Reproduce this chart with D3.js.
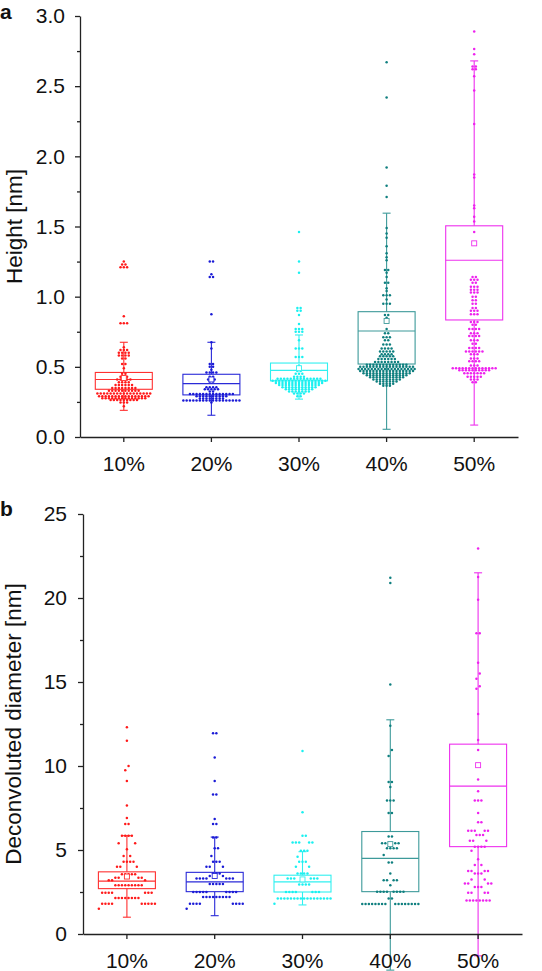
<!DOCTYPE html>
<html>
<head>
<meta charset="utf-8">
<script src="https://cdn.jsdelivr.net/npm/d3@7/dist/d3.min.js"></script>
<style>
  html, body { margin: 0; padding: 0; background: #fff; }
  svg { display: block; }
  text { font-family: "Liberation Sans", Arial, Helvetica, sans-serif; fill: #111; }
</style>
</head>
<body>
<svg id="chart" width="542" height="971"></svg>
<script>
// ---------------- DATA ----------------
const categories = ["10%", "20%", "30%", "40%", "50%"];
const colors = ["#ff1a1a", "#1a1ad6", "#1af0f0", "#0f7f7f", "#ee22ee"];
const boxColors = ["#ff3030", "#2a2ad8", "#30f0f0", "#3d9a9a", "#ee30ee"];

// Panel a: Height [nm]  —  [value, number of points at that value]
const height10 = [[1.25,1],[1.23,2],[1.21,3],[0.86,1],[0.81,3],[0.64,1],[0.62,3],[0.60,4],[0.58,4],[0.56,2],[0.52,2],[0.49,1],[0.45,2],[0.43,3],[0.41,5],[0.39,4],[0.37,6],[0.35,8],[0.33,10],[0.31,17],[0.29,16],[0.277,14],[0.263,9],[0.245,3],[0.22,1]];
const height20 = [[1.25,2],[1.16,1],[1.14,2],[0.875,1],[0.675,1],[0.63,1],[0.52,2],[0.50,2],[0.48,1],[0.46,4],[0.43,2],[0.41,3],[0.395,2],[0.355,4],[0.34,5],[0.325,2],[0.306,14],[0.29,10],[0.275,8],[0.26,18],[0.245,1]];
const height30 = [[1.46,1],[1.25,1],[1.17,1],[0.92,2],[0.90,2],[0.87,1],[0.805,1],[0.77,3],[0.75,3],[0.69,1],[0.63,3],[0.57,3],[0.51,1],[0.47,2],[0.45,3],[0.43,4],[0.415,14],[0.40,17],[0.385,15],[0.37,13],[0.355,11],[0.34,9],[0.325,7],[0.31,4],[0.29,2]];
const height40 = [[2.67,1],[2.42,1],[1.92,1],[1.79,1],[1.71,1],[1.49,1],[1.45,1],[1.42,1],[1.36,1],[1.31,1],[1.28,1],[1.26,1],[1.19,2],[1.17,1],[1.14,1],[1.10,2],[1.06,1],[1.04,1],[1.01,3],[0.98,1],[0.95,3],[0.87,2],[0.85,1],[0.82,1],[0.77,1],[0.74,2],[0.71,3],[0.69,2],[0.66,3],[0.63,4],[0.61,5],[0.59,4],[0.575,5],[0.555,6],[0.535,8],[0.515,13],[0.50,17],[0.485,18],[0.47,17],[0.455,15],[0.44,13],[0.425,11],[0.41,9],[0.395,7],[0.38,5],[0.365,3]];
const height50 = [[2.89,1],[2.765,1],[2.727,1],[2.64,2],[2.62,2],[2.57,1],[2.47,1],[2.23,1],[1.87,1],[1.85,1],[1.65,1],[1.63,1],[1.57,1],[1.535,1],[1.46,1],[1.37,1],[1.14,2],[1.12,3],[1.10,2],[1.07,3],[1.05,3],[1.03,3],[1.00,2],[0.975,2],[0.95,2],[0.92,2],[0.90,3],[0.875,3],[0.82,3],[0.80,2],[0.77,4],[0.74,3],[0.72,4],[0.69,3],[0.665,2],[0.635,4],[0.61,6],[0.59,3],[0.56,3],[0.54,4],[0.51,3],[0.49,14],[0.475,10],[0.455,7],[0.43,5],[0.41,3],[0.39,2]];

const heightQ1 = [0.34, 0.30, 0.40, 0.52, 0.834];
const heightMedian = [0.41, 0.38, 0.475, 0.755, 1.26];
const heightQ3 = [0.46, 0.447, 0.527, 0.893, 1.505];
const heightMean = [0.42, 0.41, 0.49, 0.827, 1.38];
const heightWhiskerLow = [0.19, 0.155, 0.27, 0.055, 0.085];
const heightWhiskerHigh = [0.675, 0.675, 0.727, 1.595, 2.68];
const heightTicks = [0, 0.5, 1.0, 1.5, 2.0, 2.5, 3.0];
const heightMinorTicks = [0.25, 0.75, 1.25, 1.75, 2.25, 2.75];

// Panel b: Deconvoluted diameter [nm]
const diameter10 = [[12.3,1],[11.5,1],[10.0,1],[9.75,1],[9.1,1],[7.65,1],[6.9,1],[6.55,2],[5.85,4],[5.4,2],[5.05,1],[4.65,2],[4.3,4],[4.0,3],[3.55,5],[3.35,4],[3.2,3],[2.9,9],[2.45,7],[2.15,8],[1.8,9],[1.5,1]];
const diameter20 = [[11.95,2],[10.5,1],[9.1,1],[8.3,2],[6.85,1],[6.55,2],[5.75,2],[5.1,2],[4.65,1],[4.3,3],[4.0,3],[3.6,3],[3.45,2],[3.3,7],[2.98,5],[2.5,9],[2.2,9],[1.8,8],[1.5,1]];
const diameter30 = [[10.9,1],[7.25,1],[5.85,2],[5.45,5],[4.95,3],[4.6,1],[4.3,3],[4.0,2],[3.6,4],[3.3,6],[2.95,4],[2.5,7],[2.12,17],[1.8,1]];
const diameter40 = [[21.2,1],[20.9,1],[14.85,1],[12.4,1],[10.95,1],[10.6,1],[9.05,2],[8.75,1],[7.95,3],[7.2,2],[5.8,2],[5.4,4],[5.1,4],[4.7,1],[4.25,2],[3.6,1],[3.2,4],[2.9,1],[2.52,8],[2.12,2],[1.78,16]];
const diameter50 = [[22.95,1],[21.25,1],[19.9,1],[17.9,2],[16.15,1],[15.5,1],[15.2,1],[14.75,1],[14.6,1],[13.1,1],[11.55,1],[10.95,1],[9.2,1],[8.5,1],[7.95,3],[7.2,1],[6.65,2],[6.15,5],[5.9,3],[5.55,3],[5.2,4],[4.95,1],[4.45,1],[4.1,2],[3.75,4],[3.6,3],[3.25,2],[3.0,4],[2.8,3],[2.45,4],[2.0,8]];

const diameterQ1 = [2.7, 2.52, 2.5, 2.52, 5.2];
const diameterMedian = [3.15, 3.1, 3.1, 4.5, 8.8];
const diameterQ3 = [3.7, 3.67, 3.5, 6.1, 11.3];
const diameterMean = [3.42, 3.45, 3.25, 5.35, 10.05];
const diameterWhiskerLow = [1.0, 1.09, 1.73, -2.15, -1.3];
const diameterWhiskerHigh = [5.85, 5.77, 4.9, 12.75, 21.5];
const diameterTicks = [0, 5, 10, 15, 20, 25];
const diameterMinorTicks = [2.5, 7.5, 12.5, 17.5, 22.5];

// ---------------- DRAWING ----------------
const svg = d3.select("#chart");
const FONT_TICK = 21, FONT_TITLE = 22.5;
const DOT_R = 1.25, DOT_GAP = 3.3, BOX_W = 57, CAP_W = 8;

// swarm layout: points grouped in bins; inside a bin the highest values sit
// in the middle and lower ones are placed alternately outward
function swarm(rows, binOf) {
  const pts = [];
  rows.forEach(([v, n]) => { for (let i = 0; i < n; i++) pts.push(v); });
  const out = [];
  d3.group(pts, binOf).forEach(vals => {
    vals.sort((a, b) => b - a);
    const n = vals.length;
    const slots = d3.range(n).map(j => (j - (n - 1) / 2) * DOT_GAP)
      .sort((a, b) => Math.abs(a) - Math.abs(b) || b - a);
    vals.forEach((v, i) => out.push({ v, dx: slots[i] }));
  });
  return out;
}

function panel(cfg) {
  const g = svg.append("g");
  const x = d3.scaleBand().domain(categories).range([cfg.x0, cfg.x1]).padding(0);
  const y = d3.scaleLinear().domain(cfg.domain).range([cfg.yBottom, cfg.yTop]);
  const cx = c => x(c) + x.bandwidth() / 2;

  // boxes + whiskers
  categories.forEach((c, i) => {
    const col = boxColors[i];
    const bx = g.append("g").attr("stroke", col).attr("fill", "none").attr("stroke-width", 1.1);
    bx.append("line").attr("x1", cx(c)).attr("x2", cx(c)).attr("y1", y(cfg.q3[i])).attr("y2", y(cfg.hi[i]));
    bx.append("line").attr("x1", cx(c)).attr("x2", cx(c)).attr("y1", y(cfg.q1[i])).attr("y2", y(cfg.lo[i]));
    [cfg.hi[i], cfg.lo[i]].forEach(w =>
      bx.append("line").attr("x1", cx(c) - CAP_W / 2).attr("x2", cx(c) + CAP_W / 2).attr("y1", y(w)).attr("y2", y(w)));
    bx.append("rect").attr("x", cx(c) - BOX_W / 2).attr("width", BOX_W)
      .attr("y", y(cfg.q3[i])).attr("height", y(cfg.q1[i]) - y(cfg.q3[i]));
    bx.append("line").attr("x1", cx(c) - BOX_W / 2).attr("x2", cx(c) + BOX_W / 2)
      .attr("y1", y(cfg.median[i])).attr("y2", y(cfg.median[i]));
  });

  // points
  cfg.series.forEach((rows, i) => {
    const c = categories[i];
    g.append("g").selectAll("circle").data(swarm(rows, cfg.binOf)).join("circle")
      .attr("cx", d => cx(c) + d.dx).attr("cy", d => y(d.v)).attr("r", DOT_R)
      .attr("fill", colors[i]);
  });

  // means
  categories.forEach((c, i) => {
    g.append("rect").attr("x", cx(c) - 2.5).attr("y", y(cfg.mean[i]) - 2.5)
      .attr("width", 5).attr("height", 5).attr("fill", "#fff")
      .attr("stroke", boxColors[i]).attr("stroke-width", 0.9);
  });

  // axes
  g.append("g").attr("transform", `translate(${cfg.x0},0)`)
    .call(d3.axisLeft(y).tickValues(cfg.ticks).tickSize(5).tickSizeOuter(0)
      .tickPadding(cfg.tickPad).tickFormat(cfg.fmt));
  g.append("g").attr("transform", `translate(${cfg.x0},0)`)
    .call(d3.axisLeft(y).tickValues(cfg.minor).tickSize(3).tickFormat(""))
    .call(a => a.select(".domain").remove());
  g.append("g").attr("transform", `translate(0,${cfg.yBottom})`)
    .call(d3.axisBottom(x).tickSize(5).tickSizeOuter(0).tickPadding(14));
  g.selectAll(".domain, .tick line").attr("stroke", "#222").attr("stroke-width", 1.3);
  g.selectAll(".tick text").attr("font-size", FONT_TICK)
    .attr("font-family", '"Liberation Sans", Arial, sans-serif').attr("fill", "#111");

  // titles
  g.append("text").attr("transform", `translate(${cfg.titleX},${(cfg.yTop + cfg.yBottom) / 2}) rotate(-90)`)
    .attr("text-anchor", "middle").attr("font-size", FONT_TITLE).text(cfg.title);
  g.append("text").attr("x", 0).attr("y", cfg.letterY).attr("font-size", 21)
    .attr("font-weight", "bold").text(cfg.letter);
}

panel({
  x0: 80, x1: 518, yTop: 16, yBottom: 437, domain: [0, 3],
  series: [height10, height20, height30, height40, height50],
  q1: heightQ1, median: heightMedian, q3: heightQ3, mean: heightMean,
  lo: heightWhiskerLow, hi: heightWhiskerHigh,
  ticks: heightTicks, minor: heightMinorTicks, fmt: d3.format(".1f"), tickPad: 10,
  binOf: v => v, title: "Height [nm]", titleX: 22, letter: "a", letterY: 19
});

panel({
  x0: 83, x1: 522, yTop: 514, yBottom: 934, domain: [0, 25],
  series: [diameter10, diameter20, diameter30, diameter40, diameter50],
  q1: diameterQ1, median: diameterMedian, q3: diameterQ3, mean: diameterMean,
  lo: diameterWhiskerLow, hi: diameterWhiskerHigh,
  ticks: diameterTicks, minor: diameterMinorTicks, fmt: d3.format("d"), tickPad: 11,
  binOf: v => Math.floor(v / 0.75), title: "Deconvoluted diameter [nm]", titleX: 21,
  letter: "b", letterY: 516
});
</script>
</body>
</html>
